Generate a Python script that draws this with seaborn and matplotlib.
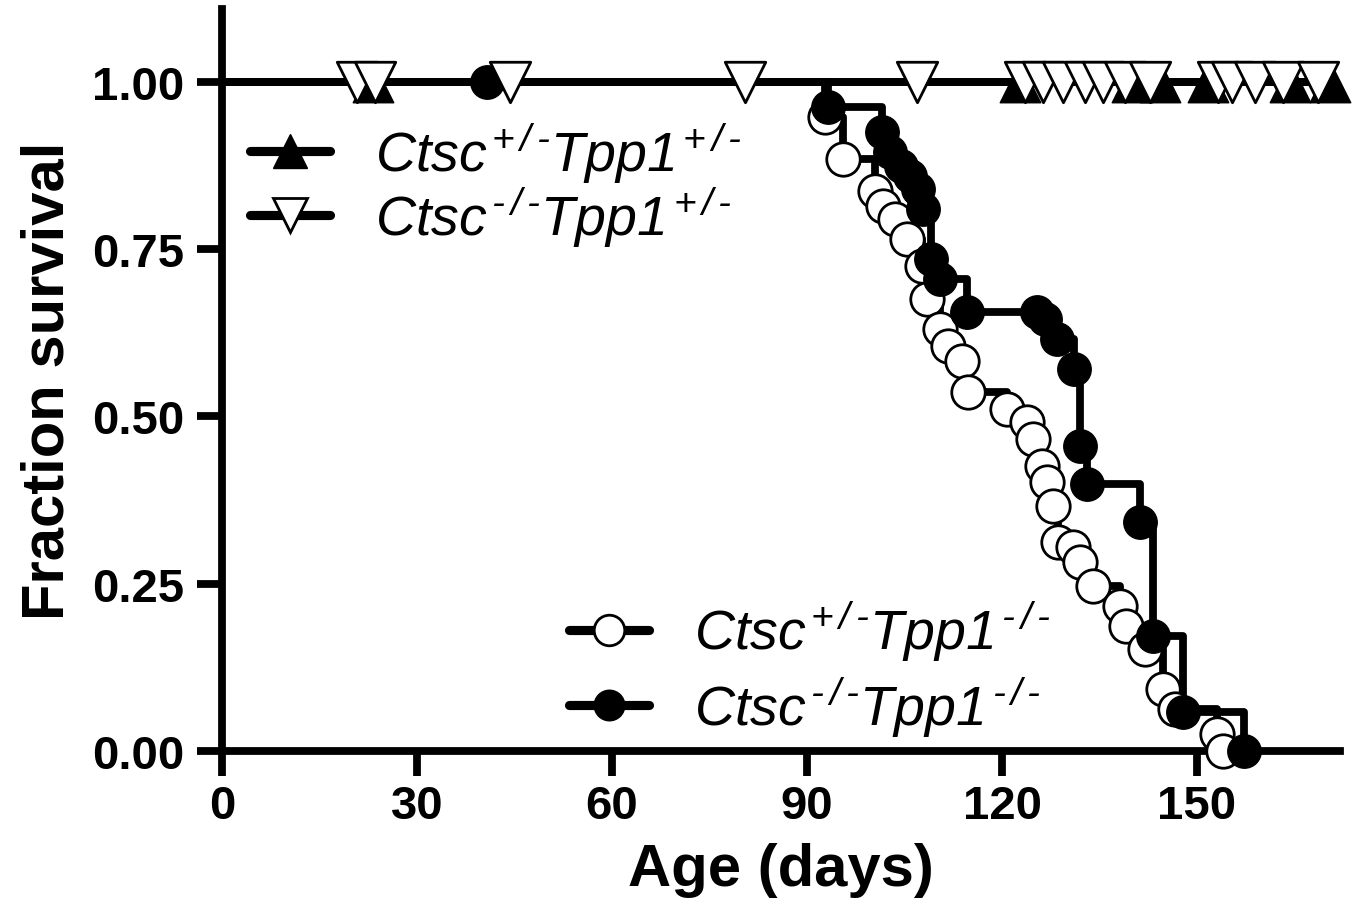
import matplotlib
matplotlib.use("Agg")
import matplotlib.pyplot as plt
from matplotlib.lines import Line2D
import seaborn as sns
import pandas as pd

# Kaplan-Meier points (age in days, fraction surviving)
# Ctsc+/- Tpp1-/- (open circles)
het_ko_days = [92.8, 95.5, 100.5, 101.7, 103.5, 105.4, 107.7, 108.5, 110.5, 111.7,
               113.8, 114.8, 120.8, 123.8, 124.8, 126.2, 126.9, 127.8, 128.6, 130.9,
               132.0, 134.0, 138.2, 139.0, 142.0, 144.8, 146.6, 153.0, 154.0]
het_ko_surv = [0.948, 0.885, 0.837, 0.815, 0.795, 0.765, 0.725, 0.676, 0.631, 0.605,
               0.583, 0.537, 0.511, 0.492, 0.466, 0.426, 0.402, 0.366, 0.312, 0.305,
               0.283, 0.247, 0.217, 0.187, 0.152, 0.093, 0.063, 0.025, 0.0]

# Ctsc-/- Tpp1-/- (filled circles), first point is a censored mouse at 1.00
ko_ko_days = [40.8, 93.2, 101.5, 102.8, 104.5, 105.8, 107.0, 107.8, 109.0, 110.5,
              114.6, 125.4, 126.6, 128.5, 131.0, 132.0, 133.0, 141.2, 143.2, 147.8, 157.3]
ko_ko_surv = [1.0, 0.963, 0.925, 0.895, 0.875, 0.86, 0.84, 0.81, 0.735, 0.706,
              0.656, 0.656, 0.645, 0.616, 0.571, 0.456, 0.399, 0.342, 0.172, 0.058, 0.0]

# censored mice of the Tpp1+/- groups (all survive)
het_het_days = [23.2, 122.8, 140.0, 144.3, 151.7, 164.3, 170.5]
ko_het_days = [20.8, 23.5, 44.3, 80.5, 106.9, 123.5, 126.3, 129.4, 132.8, 135.5,
               138.9, 142.8, 153.2, 155.4, 158.9, 163.2, 168.6]

HET = r"$^{\,\text{+}\,\text{/}\,\text{-}}$"
KO = r"$^{\,\text{-}\,\text{/}\,\text{-}}$"
labels = ["Ctsc" + HET + "Tpp1" + HET, "Ctsc" + KO + "Tpp1" + HET,
          "Ctsc" + HET + "Tpp1" + KO, "Ctsc" + KO + "Tpp1" + KO]

sns.set_style("ticks")
plt.rcParams["font.family"] = ["Liberation Sans", "DejaVu Sans"]
plt.rcParams["mathtext.fontset"] = "custom"
plt.rcParams["mathtext.rm"] = "Liberation Sans:italic"
plt.rcParams["mathtext.it"] = "Liberation Sans:italic"
for key in ["axes.edgecolor", "xtick.color", "ytick.color", "text.color", "axes.labelcolor"]:
    plt.rcParams[key] = "black"

LW = 5.6
fig = plt.figure(figsize=(13.66, 9.2), dpi=100)
ax = fig.add_axes([0.1625, 0.1826, 0.8185, 0.8065])


def km_frame(days, surv):
    return pd.DataFrame({"day": [0.0] + list(days), "surv": [1.0] + list(surv)})


def flat_frame(days):
    return pd.DataFrame({"day": [0.0] + list(days), "surv": [1.0] * (len(days) + 1)})


# step lines
for df in [km_frame(het_ko_days, het_ko_surv), km_frame(ko_ko_days, ko_ko_surv),
           flat_frame(het_het_days), flat_frame(ko_het_days)]:
    sns.lineplot(data=df, x="day", y="surv", ax=ax, estimator=None, sort=False,
                 drawstyle="steps-post", color="black", lw=LW, clip_on=False, zorder=2)

# symbols
sns.scatterplot(x=het_ko_days, y=het_ko_surv, ax=ax, marker="o", s=580, color="white",
                edgecolor="black", linewidth=2, clip_on=False, zorder=3)
sns.scatterplot(x=ko_ko_days, y=ko_ko_surv, ax=ax, marker="o", s=580, color="black",
                edgecolor="black", linewidth=1, clip_on=False, zorder=4)
sns.scatterplot(x=het_het_days, y=[1.0] * len(het_het_days), ax=ax, marker="^", s=850,
                color="black", edgecolor="black", linewidth=1, clip_on=False, zorder=5)
sns.scatterplot(x=ko_het_days, y=[1.0] * len(ko_het_days), ax=ax, marker="v", s=850,
                color="white", edgecolor="black", linewidth=2, clip_on=False, zorder=6)

ax.set_xlim(0, 172)
ax.set_ylim(0, 1.109)
ax.set_xticks([0, 30, 60, 90, 120, 150])
ax.set_yticks([0, 0.25, 0.5, 0.75, 1.0])
ax.set_yticklabels(["0.00", "0.25", "0.50", "0.75", "1.00"])
sns.despine(ax=ax)
for sp in ["left", "bottom"]:
    ax.spines[sp].set_linewidth(LW)
ax.tick_params(axis="both", length=18, width=LW, labelsize=34)
ax.tick_params(axis="y", pad=9)
ax.tick_params(axis="x", pad=6)
for lab in ax.get_xticklabels() + ax.get_yticklabels():
    lab.set_fontweight("bold")
ax.set_xlabel("Age (days)", fontsize=43, fontweight="bold", labelpad=10)
ax.set_ylabel("Fraction survival", fontsize=43, fontweight="bold", labelpad=12)

# legends
h_het_het = Line2D([], [], color="black", lw=LW + 1, marker="^", ms=24, mfc="black", mec="black")
h_ko_het = Line2D([], [], color="black", lw=LW + 1, marker="v", ms=24, mfc="white", mec="black", mew=2)
h_het_ko = Line2D([], [], color="black", lw=LW + 1, marker="o", ms=22, mfc="white", mec="black", mew=2)
h_ko_ko = Line2D([], [], color="black", lw=LW + 1, marker="o", ms=22, mfc="black", mec="black")

leg1 = ax.legend([h_het_het, h_ko_het], labels[:2], loc="upper left",
                 bbox_to_anchor=(0.025, 0.85), frameon=False, borderpad=0, borderaxespad=0,
                 handlelength=1.45, handletextpad=0.8, labelspacing=0.0,
                 prop={"size": 40, "style": "italic"})
ax.add_artist(leg1)
ax.legend([h_het_ko, h_ko_ko], labels[2:], loc="upper left",
          bbox_to_anchor=(0.31, 0.205), frameon=False, borderpad=0, borderaxespad=0,
          handlelength=1.45, handletextpad=0.8, labelspacing=0.2,
          prop={"size": 40, "style": "italic"})

fig.savefig("out.png", dpi=100)
